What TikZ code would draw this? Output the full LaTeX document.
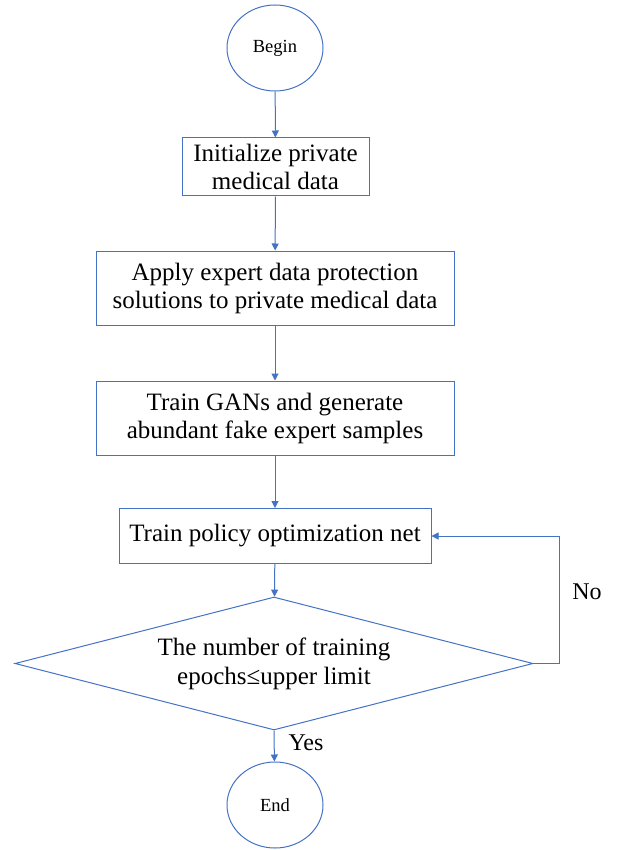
\documentclass[tikz,border=0pt]{standalone}
\usepackage{fontspec}
\setmainfont{Liberation Serif}
\usetikzlibrary{shapes.geometric,arrows.meta}
\definecolor{lineblue}{RGB}{68,114,196}
\tikzset{
  x=1pt,y=-1pt,
  flowline/.style={draw=lineblue,line width=1pt,-{Triangle[length=7pt,width=7pt]}},
  procbox/.style={draw=lineblue,line width=1pt,rectangle,inner sep=0pt,align=center,
    font=\fontsize{25}{28}\selectfont},
  termnode/.style={draw=lineblue,line width=1pt,ellipse,inner sep=0pt,
    minimum width=96pt,minimum height=86pt,font=\fontsize{18.5}{22}\selectfont},
  decnode/.style={draw=lineblue,line width=1pt,diamond,inner sep=0pt,aspect=3.9,
    minimum width=518pt,minimum height=133pt,align=center,
    font=\fontsize{25}{29}\selectfont},
  lbl/.style={font=\fontsize{24}{28}\selectfont,inner sep=0pt}
}
\begin{document}
\begin{tikzpicture}
\useasboundingbox (0,0) rectangle (626,850);
\node[termnode] (begin) at (275,48) {Begin};
\node[procbox,minimum width=187pt,minimum height=58pt] (b1) at (275.5,167) {Initialize private\\medical data};
\node[procbox,minimum width=358pt,minimum height=74pt] (b2) at (275,288) {Apply expert data protection\\solutions to private medical data};
\node[procbox,minimum width=358pt,minimum height=74pt] (b3) at (275,418) {Train GANs and generate\\abundant fake expert samples};
\node[procbox,minimum width=312pt,minimum height=55pt] (b4) at (275,536) {Train policy optimization net};
\node[decnode] (dec) at (274,663.5) {The number of training\\epochs≤upper limit};
\node[termnode] (end) at (275,805) {End};
\coordinate (fb) at (559,663.5);
\node[lbl] (no) at (587,592) {No};
\node[lbl] (yes) at (306,743) {Yes};
\draw[flowline] (begin) -- (b1);
\draw[flowline] (b1) -- (b2);
\draw[flowline] (b2) -- (b3);
\draw[flowline] (b3) -- (b4);
\draw[flowline] (b4) -- (dec);
\draw[flowline] (dec.east) -- (fb) |- (b4.east);
\draw[flowline] (dec.south) -- (end);
\end{tikzpicture}
\end{document}
